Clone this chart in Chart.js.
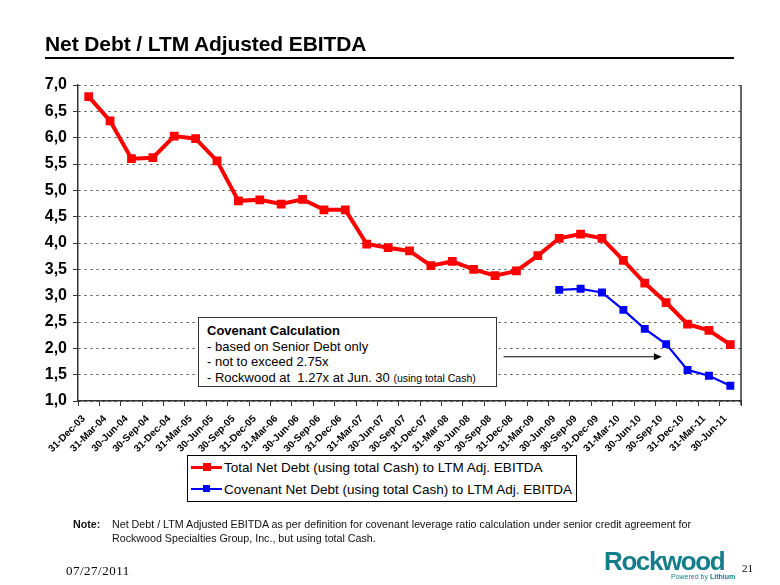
<!DOCTYPE html>
<html>
<head>
<meta charset="utf-8">
<script src="https://cdn.jsdelivr.net/npm/chart.js@4.4.0/dist/chart.umd.min.js"></script>
<style>
  body { margin: 0; background: #fff; }
  #wrap { position: relative; width: 780px; height: 585px; overflow: hidden; font-family: "Liberation Sans", Arial, sans-serif; }
  #myChart { position: absolute; left: 0; top: 0; }
  .abs { position: absolute; white-space: nowrap; }
  #title { left: 45px; top: 33px; font-size: 21px; line-height: 21px; font-weight: bold; letter-spacing: -0.1px; }
  #rule { left: 45px; top: 57px; width: 689px; height: 2px; background: #000; }
  #note { left: 73px; top: 518px; font-size: 10.7px; line-height: 13.5px; color: #111; }
  #note b { display: inline-block; width: 39px; }
  #date { left: 66px; top: 563px; font-family: "Liberation Serif", serif; font-size: 13px; letter-spacing: 0.5px; }
  #page { left: 742px; top: 562px; font-family: "Liberation Serif", serif; font-size: 11px; }
  #logo { left: 604px; top: 548px; font-size: 26px; line-height: 26px; font-weight: bold; color: #137e89; letter-spacing: -1.4px; }
  #powered { left: 671px; top: 573px; font-size: 7px; color: #137e89; }
  #covbox { left: 198px; top: 317px; width: 299px; height: 70px; border: 1px solid #333; background: #fff; font-size: 13px; line-height: 15.5px; padding: 5px 0 0 8px; box-sizing: border-box; }
  #covbox small { font-size: 10.5px; }
  #legend { left: 187px; top: 455px; width: 390px; height: 47px; border: 1.5px solid #000; box-sizing: border-box; background: #fff; font-size: 13.5px; }
  .row { position: absolute; left: 3px; height: 20px; }
  .sample { position: absolute; left: 0; top: 8px; width: 31px; height: 3px; }
  .sample i { position: absolute; left: 12px; top: -3px; width: 8px; height: 8px; }
  .lbl { position: absolute; left: 33px; top: 0; line-height: 20px; }
</style>
</head>
<body>
<div id="wrap">
  <canvas id="myChart" width="780" height="585"></canvas>
  <div class="abs" id="title">Net Debt / LTM Adjusted EBITDA</div>
  <div class="abs" id="rule"></div>
  <div class="abs" id="covbox"><b>Covenant Calculation</b><br>- based on Senior Debt only<br>- not to exceed 2.75x<br>- Rockwood at&nbsp; 1.27x at Jun. 30 <small>(using total Cash)</small></div>
  <div class="abs" id="legend">
    <div class="row" style="top:2px"><div class="sample" style="background:#ff0000"><i style="background:#ff0000"></i></div><span class="lbl">Total Net Debt (using total Cash) to LTM Adj. EBITDA</span></div>
    <div class="row" style="top:24px"><div class="sample" style="background:#0000ff;height:2px"><i style="background:#0000ff;top:-3px;width:7px;height:7px"></i></div><span class="lbl">Covenant Net Debt (using total Cash) to LTM Adj. EBITDA</span></div>
  </div>
  <div class="abs" id="note"><b>Note:</b>Net Debt / LTM Adjusted EBITDA as per definition for covenant leverage ratio calculation under senior credit agreement for<br><span style="padding-left:39px">Rockwood Specialties Group, Inc., but using total Cash.</span></div>
  <div class="abs" id="date">07/27/2011</div>
  <div class="abs" id="logo">Rockwood</div>
  <div class="abs" id="powered">Powered by <b>Lithium</b></div>
  <div class="abs" id="page">21</div>
</div>
<script>
// Quartalni data
const kvartaly = ['31-Dec-03', '31-Mar-04', '30-Jun-04', '30-Sep-04', '31-Dec-04', '31-Mar-05', '30-Jun-05',
  '30-Sep-05', '31-Dec-05', '31-Mar-06', '30-Jun-06', '30-Sep-06', '31-Dec-06', '31-Mar-07', '30-Jun-07',
  '30-Sep-07', '31-Dec-07', '31-Mar-08', '30-Jun-08', '30-Sep-08', '31-Dec-08', '31-Mar-09', '30-Jun-09',
  '30-Sep-09', '31-Dec-09', '31-Mar-10', '30-Jun-10', '30-Sep-10', '31-Dec-10', '31-Mar-11', '30-Jun-11'];

const totalNetDebt = [6.78, 6.32, 5.60, 5.62, 6.03, 5.98, 5.56, 4.80, 4.82, 4.74, 4.83, 4.63, 4.63, 3.98, 3.91,
  3.85, 3.57, 3.65, 3.50, 3.38, 3.47, 3.76, 4.09, 4.17, 4.09, 3.67, 3.24, 2.87, 2.46, 2.34, 2.07];

const covenantNetDebt = [null, null, null, null, null, null, null, null, null, null, null, null, null, null, null,
  null, null, null, null, null, null, null, 3.11, 3.13, 3.06, 2.73, 2.37, 2.08, 1.59, 1.48, 1.29];

const yTicks = [1.0, 1.5, 2.0, 2.5, 3.0, 3.5, 4.0, 4.5, 5.0, 5.5, 6.0, 6.5, 7.0];

// sipka od boxu k bodu (v jednotkach os)
const arrowFrom = 19.4, arrowTo = 26.8, arrowY = 1.84;

const extras = {
  id: 'extras',
  afterDraw(chart) {
    const c = chart.ctx, a = chart.chartArea;
    c.save();
    // pravy okraj grafu
    c.strokeStyle = '#333';
    c.lineWidth = 1.5;
    c.beginPath();
    c.moveTo(a.right, a.top);
    c.lineTo(a.right, a.bottom + 4);
    c.stroke();
    // sipka
    const x1 = chart.scales.x.getPixelForValue(arrowFrom);
    const x2 = chart.scales.x.getPixelForValue(arrowTo);
    const y = chart.scales.y.getPixelForValue(arrowY);
    c.strokeStyle = '#000';
    c.lineWidth = 1;
    c.beginPath();
    c.moveTo(x1, y);
    c.lineTo(x2 - 6, y);
    c.stroke();
    c.fillStyle = '#000';
    c.beginPath();
    c.moveTo(x2, y);
    c.lineTo(x2 - 8, y - 3.5);
    c.lineTo(x2 - 8, y + 3.5);
    c.closePath();
    c.fill();
    c.restore();
  }
};

const ctx = document.getElementById('myChart').getContext('2d');
const myChart = new Chart(ctx, {
  type: 'line',
  data: {
    labels: kvartaly,
    datasets: [{
      label: 'Total Net Debt (using total Cash) to LTM Adj. EBITDA',
      data: totalNetDebt,
      borderColor: '#ff0000',
      backgroundColor: '#ff0000',
      borderWidth: 4,
      pointStyle: 'rect',
      pointRadius: 6.2,
      pointBorderWidth: 0,
      tension: 0
    }, {
      label: 'Covenant Net Debt (using total Cash) to LTM Adj. EBITDA',
      data: covenantNetDebt,
      borderColor: '#0000ff',
      backgroundColor: '#0000ff',
      borderWidth: 2.2,
      pointStyle: 'rect',
      pointRadius: 5.6,
      pointBorderWidth: 0,
      tension: 0
    }]
  },
  options: {
    responsive: false,
    animation: false,
    devicePixelRatio: 1,
    layout: { padding: { top: 85, right: 39, bottom: 124, left: 0 } },
    plugins: { legend: { display: false }, tooltip: { enabled: false } },
    scales: {
      x: {
        offset: true,
        afterFit(scale) { scale.height = 60; },
        grid: { offset: true, drawOnChartArea: false, tickLength: 5, color: '#333', lineWidth: 1 },
        border: { color: '#333', width: 1.5 },
        ticks: {
          autoSkip: false, maxRotation: 45, minRotation: 45, padding: 7, labelOffset: -5,
          color: '#000', font: { family: 'Liberation Sans, Arial', size: 10, weight: 'bold' }
        }
      },
      y: {
        min: 1, max: 7,
        afterFit(scale) { scale.width = 78; },
        afterBuildTicks(scale) { scale.ticks = yTicks.map(v => ({ value: v })); },
        grid: { color: '#444', lineWidth: 1, tickLength: 5, tickColor: '#333', tickBorderDash: [] },
        border: { color: '#333', width: 1.5, dash: [2, 4] },
        ticks: {
          padding: 6, color: '#000',
          font: { family: 'Liberation Sans, Arial', size: 16, weight: 'bold' },
          callback: v => v.toFixed(1).replace('.', ',')
        }
      }
    }
  },
  plugins: [extras]
});
</script>
</body>
</html>
